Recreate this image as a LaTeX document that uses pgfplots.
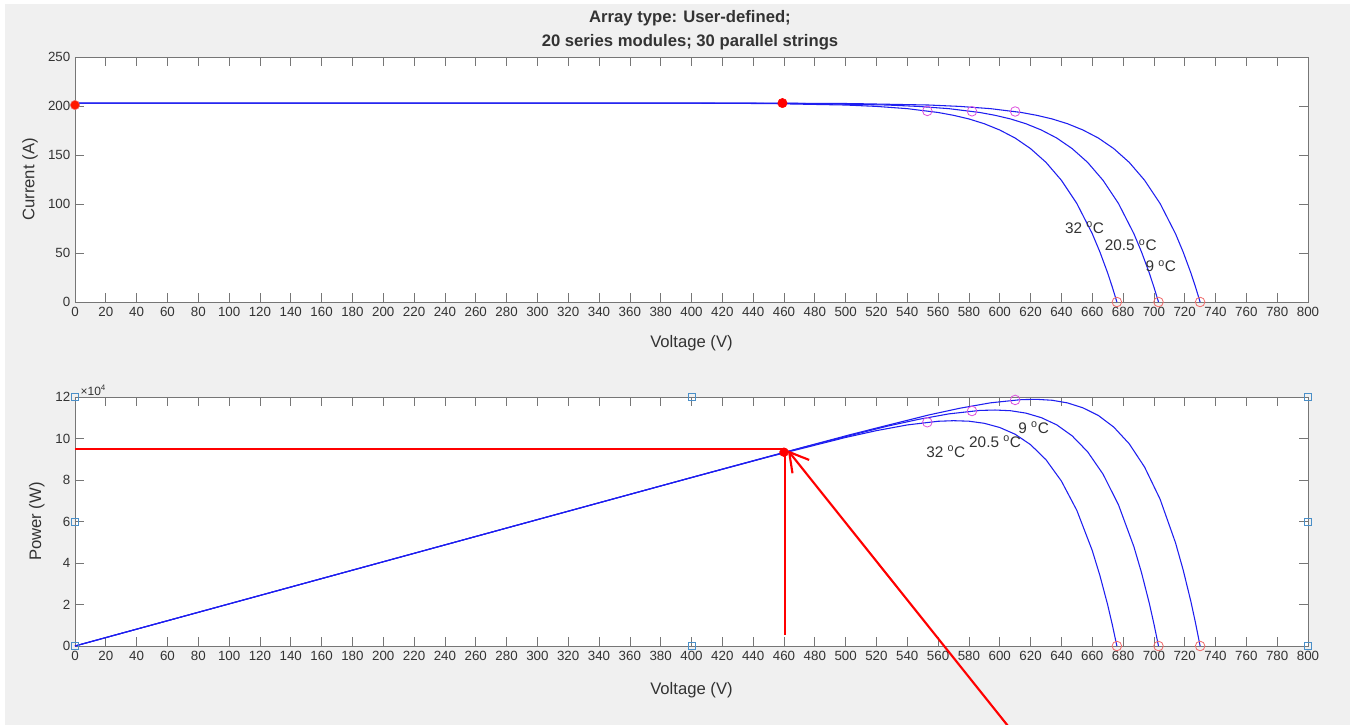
\documentclass[border=0pt]{standalone}
\usepackage{pgfplots}
\pgfplotsset{compat=1.18}
\usepackage{pgfplotstable}
\usepackage{fontspec}
\setmainfont{Liberation Sans}
\usetikzlibrary{arrows.meta}

\definecolor{figbg}{HTML}{F0F0F0}
\definecolor{axgray}{HTML}{767676}
\definecolor{txt}{HTML}{333333}
\definecolor{ivblue}{HTML}{1E1EF0}
\definecolor{mppmag}{HTML}{DD50DD}
\definecolor{vocred}{HTML}{F06A6A}
\definecolor{hdlblue}{HTML}{4A8FC8}

% I-V / P-V data of the array at three cell temperatures: V (V), I (A), P (W)
\pgfplotstableread{
V I P
0 203 0
100 203 20300
200 203 40600
300 203 60900
400 202.9 81160
450 202.5 91125
500 201.0 100500
520 199.6 103792
540 197.3 106542
560 193.4 108304
570 190.5 108585
580 186.8 108344
590 181.9 107321
600 175.5 105300
610 167.3 102053
620 156.5 97030
630 142.5 89775
640 124.2 79488
650 100.6 65390
660 69.8 46068
665 51.0 33915
670 29.7 19899
673 15.4 10364
676 0 0
}\tempA
\pgfplotstableread{
V I P
0 203 0
100 203 20300
200 203 40600
300 203 60900
400 203 81200
427 202.9 86638
477 202.5 96593
527 201.0 105927
547 199.6 109181
567 197.3 111869
587 193.4 113526
597 190.5 113729
607 186.8 113388
617 181.9 112232
627 175.5 110039
637 167.3 106570
647 156.5 101256
657 142.5 93623
667 124.2 82841
677 100.6 68106
687 69.8 47953
692 51.0 35292
697 29.7 20701
700 15.4 10780
703 0 0
}\tempB
\pgfplotstableread{
V I P
0 203 0
100 203 20300
200 203 40600
300 203 60900
400 203 81200
454 202.9 92117
504 202.5 102060
554 201.0 111354
574 199.6 114570
594 197.3 117196
614 193.4 118748
624 190.5 118872
634 186.8 118431
644 181.9 117144
654 175.5 114777
664 167.3 111087
674 156.5 105481
684 142.5 97470
694 124.2 86195
704 100.6 70822
714 69.8 49837
719 51.0 36669
724 29.7 21503
727 15.4 11196
730 0 0
}\tempC
% maximum power points and open-circuit points
\pgfplotstableread{
V I P
553 195.0 107835
582 194.6 113257
610 194.4 118584
}\mpp
\pgfplotstableread{
V I P
676 0 0
703 0 0
730 0 0
}\voc

\tikzset{templabel/.style={font=\fontsize{11.5}{13}\selectfont, text=txt, inner sep=0.5pt}}

\pgfplotsset{
  pvaxis/.style={
    scale only axis, width=924.75pt,
    xmin=0, xmax=800, xtick={0,20,...,800},
    axis background/.style={fill=white},
    axis line style={axgray, line width=0.6pt},
    tick style={axgray, line width=0.5pt},
    tick align=inside, major tick length=7pt,
    ticklabel style={font=\fontsize{10}{11}\selectfont, text=txt},
    label style={font=\fontsize{12.5}{14}\selectfont, text=txt},
    /pgf/number format/assume math mode=true,
    clip=false,
  },
  ivline/.style={ivblue, line width=0.8pt},
  mppmark/.style={only marks, mark=o, mark size=3.6pt, mppmag, line width=0.6pt},
  vocmark/.style={only marks, mark=o, mark size=3.6pt, vocred, line width=0.6pt},
}

\begin{document}
\begin{tikzpicture}
\useasboundingbox (0,0) rectangle (1015.5pt,-543.75pt);
\fill[white] (0,0) rectangle (1015.5pt,-543.75pt);
\fill[figbg] (3.75pt,-3pt) rectangle (1012.5pt,-543.75pt);

\node[font=\bfseries\fontsize{12.5}{14}\selectfont, text=txt] at (517.5pt,-13.3pt) {Array type: User-defined;};
\node[font=\bfseries\fontsize{12.5}{14}\selectfont, text=txt] at (517.5pt,-31.3pt) {20 series modules; 30 parallel strings};

% current-voltage characteristics
\begin{axis}[pvaxis,
  at={(56.25pt,-226.5pt)}, anchor=south west, height=183.75pt,
  ymin=0, ymax=250, ytick={0,50,...,250},
  xlabel={Voltage (V)}, ylabel={Current (A)},
  xlabel style={at={(axis description cs:0.5,-0.167)}, anchor=center},
  ylabel style={at={(axis description cs:-0.0365,0.5)}, anchor=center},
]
\addplot[ivline] table[x=V, y=I] {\tempA};
\addplot[ivline] table[x=V, y=I] {\tempB};
\addplot[ivline] table[x=V, y=I] {\tempC};
\addplot[mppmark] table[x=V, y=I] {\mpp};
\addplot[vocmark] table[x=V, y=I] {\voc};
\addplot[only marks, mark=*, mark size=3.5pt, draw=vocred, fill=red!80!orange] coordinates {(0,201)};
\addplot[only marks, mark=*, mark size=3.5pt, red] coordinates {(459,203)};
\node[templabel] at (axis cs:655,75.5) {32 \textsuperscript{o}C};
\node[templabel] at (axis cs:685,58) {20.5 \textsuperscript{o}C};
\node[templabel] at (axis cs:704.5,36.5) {9 \textsuperscript{o}C};
\end{axis}

% power-voltage characteristics
\begin{axis}[pvaxis,
  at={(56.25pt,-484.5pt)}, anchor=south west, height=186.75pt,
  ymin=0, ymax=120000, ytick={0,20000,...,120000},
  scaled y ticks=base 10:-4,
  ytick scale label code/.code={×10\textsuperscript{4}},
  every y tick scale label/.style={at={(rel axis cs:0,1)}, anchor=south west,
    inner sep=1pt, xshift=3pt, font=\fontsize{9}{10}\selectfont, text=txt},
  xlabel={Voltage (V)}, ylabel={Power (W)},
  xlabel style={at={(axis description cs:0.5,-0.177)}, anchor=center},
  ylabel style={at={(axis description cs:-0.031,0.5)}, anchor=center},
]
\addplot[ivline] table[x=V, y=P] {\tempA};
\addplot[ivline] table[x=V, y=P] {\tempB};
\addplot[ivline] table[x=V, y=P] {\tempC};
\addplot[mppmark] table[x=V, y=P] {\mpp};
\addplot[vocmark] table[x=V, y=P] {\voc};
\addplot[only marks, mark=square, mark size=2.6pt, hdlblue, line width=0.6pt]
  coordinates {(0,0)(0,60000)(0,120000)(400,0)(400,120000)(800,0)(800,60000)(800,120000)};
\node[templabel] at (axis cs:565,93500) {32 \textsuperscript{o}C};
\node[templabel] at (axis cs:597,98600) {20.5 \textsuperscript{o}C};
\node[templabel] at (axis cs:622,105200) {9 \textsuperscript{o}C};
% operating point guides
\addplot[red, line width=1.3pt] coordinates {(0,95000)(461,95000)};
\addplot[red, line width=1.3pt] coordinates {(460.6,5300)(460.6,95000)};
\addplot[only marks, mark=*, mark size=3.3pt, red] coordinates {(460,93400)};
\addplot[red, line width=1.6pt, -{Straight Barb[length=14pt, width=16pt, line width=1.6pt]}]
  coordinates {(605.3,-38500)(462.5,94300)};
\end{axis}
\end{tikzpicture}
\end{document}
